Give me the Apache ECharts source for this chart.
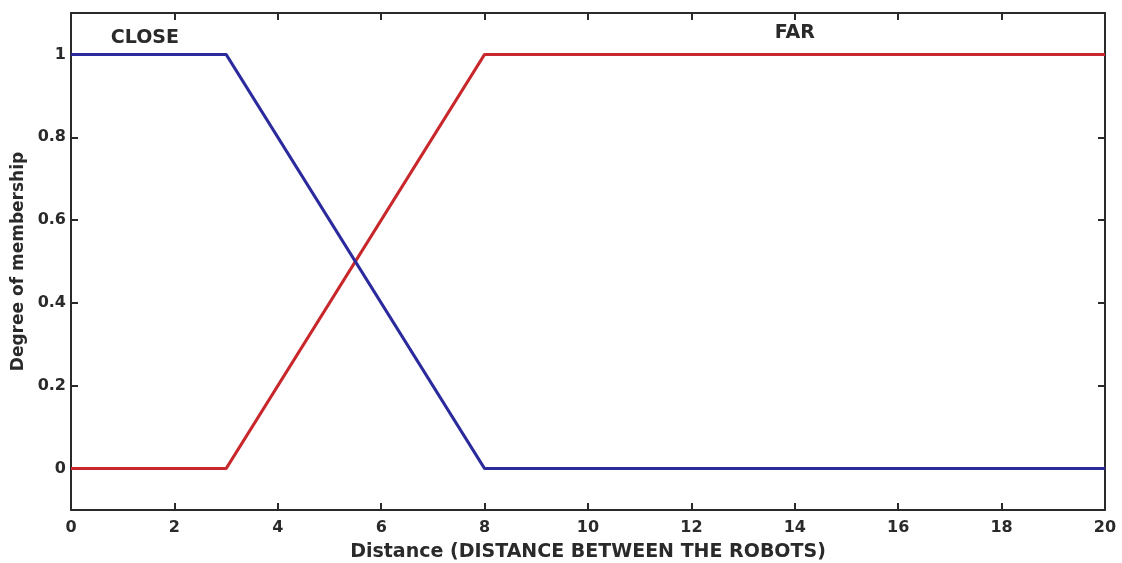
<!DOCTYPE html>
<html><head><meta charset="utf-8">
<script src="https://cdn.jsdelivr.net/npm/echarts@6/dist/echarts.min.js"></script>
<style>html,body{margin:0;padding:0;background:#fff}#c{width:1122px;height:563px}</style>
</head><body><div id="c"></div>
<script>
const closeX = [0, 3, 8, 20];
const closeY = [1, 1, 0, 0];
const farX = [0, 3, 8, 20];
const farY = [0, 0, 1, 1];
const yTicks = [0, 0.2, 0.4, 0.6, 0.8, 1];
const labelClose = 'CLOSE';
const labelFar = 'FAR';

const ff = 'DejaVu Sans, Arial, sans-serif';
const font = {fontFamily: ff, fontWeight: 'bold', fontSize: 16, color: '#2a2a2a'};
const axLine = {show: true, onZero: false, lineStyle: {color: '#2a2a2a', width: 2}};
const tick = {show: true, inside: true, length: 7, lineStyle: {color: '#2a2a2a', width: 2}};

const chart = echarts.init(document.getElementById('c'));
chart.setOption({
  animation: false,
  grid: {left: 71, right: 17, top: 13, bottom: 53, containLabel: false, outerBoundsMode: 'none'},
  xAxis: [
    {type: 'value', min: 0, max: 20, interval: 2, position: 'bottom',
     axisLine: axLine, axisTick: tick, splitLine: {show: false},
     axisLabel: Object.assign({margin: 10}, font),
     name: 'Distance (DISTANCE BETWEEN THE ROBOTS)', nameLocation: 'middle', nameGap: 33,
     nameTextStyle: Object.assign({}, font, {fontSize: 19})},
    {type: 'value', min: 0, max: 20, interval: 2, position: 'top',
     axisLine: axLine, axisTick: tick, splitLine: {show: false}, axisLabel: {show: false}}
  ],
  yAxis: [
    {type: 'value', min: -0.1, max: 1.1, position: 'left',
     axisLine: axLine, axisTick: Object.assign({customValues: yTicks}, tick), splitLine: {show: false},
     axisLabel: Object.assign({customValues: yTicks, margin: 5, formatter: v => String(+v.toFixed(1))}, font),
     name: 'Degree of membership', nameLocation: 'middle', nameGap: 38, nameRotate: 90,
     nameTextStyle: Object.assign({}, font, {fontSize: 17})},
    {type: 'value', min: -0.1, max: 1.1, position: 'right',
     axisLine: axLine, axisTick: Object.assign({customValues: yTicks}, tick), splitLine: {show: false},
     axisLabel: {show: false}}
  ],
  series: [
    {type: 'line', name: 'CLOSE', data: closeX.map((x, i) => [x, closeY[i]]), symbol: 'none',
     lineStyle: {color: '#2b2b9e', width: 3}, z: 3,
     markPoint: {symbol: 'circle', symbolSize: 0,
       data: [{coord: [1.43, 1.04], value: labelClose}],
       label: Object.assign({show: true, position: 'inside', formatter: labelClose}, font, {fontSize: 19})}},
    {type: 'line', name: 'FAR', data: farX.map((x, i) => [x, farY[i]]), symbol: 'none',
     lineStyle: {color: '#c8282c', width: 3}, z: 2,
     markPoint: {symbol: 'circle', symbolSize: 0,
       data: [{coord: [14.0, 1.052], value: labelFar}],
       label: Object.assign({show: true, position: 'inside', formatter: labelFar}, font, {fontSize: 19})}}
  ]
});
</script></body></html>
